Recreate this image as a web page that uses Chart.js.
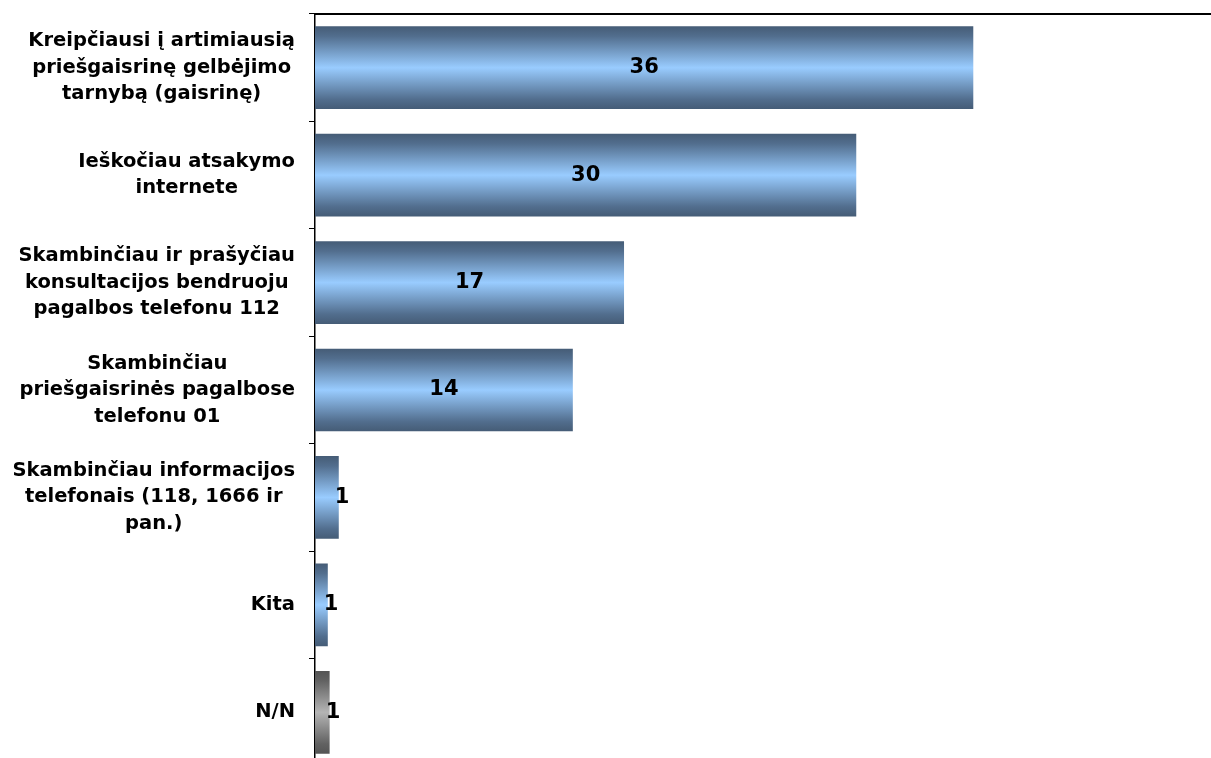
<!DOCTYPE html>
<html>
<head>
<meta charset="utf-8">
<script src="https://cdn.jsdelivr.net/npm/chart.js@4.4.0/dist/chart.umd.min.js"></script>
<style>
  html, body { margin: 0; padding: 0; background: #fff; overflow: hidden; }
  #wrap { width: 1211px; height: 766px; position: relative; }
</style>
</head>
<body>
<div id="wrap"><canvas id="chart"></canvas></div>
<script>
const categories = [
  ['Kreipčiausi į artimiausią', 'priešgaisrinę gelbėjimo', 'tarnybą (gaisrinę)'],
  ['Ieškočiau atsakymo', 'internete'],
  ['Skambinčiau ir prašyčiau', 'konsultacijos bendruoju', 'pagalbos telefonu 112'],
  ['Skambinčiau', 'priešgaisrinės pagalbose', 'telefonu 01'],
  ['Skambinčiau informacijos', 'telefonais (118, 1666 ir', 'pan.)'],
  ['Kita'],
  ['N/N'],
];
const values = [36, 29.6, 16.9, 14.1, 1.3, 0.7, 0.8];
const valueLabels = ['36', '30', '17', '14', '1', '1', '1'];
const grayBars = [false, false, false, false, false, false, true];

const LABEL_FONT = 'bold 19.5px "DejaVu Sans", Verdana, sans-serif';
const VALUE_FONT = 'bold 21px "DejaVu Sans", Verdana, sans-serif';

const barGradient = (ctx) => {
  const chart = ctx.chart;
  const yScale = chart.scales.y;
  if (!yScale || !chart.chartArea || ctx.dataIndex === undefined) return '#99ccff';
  const band = (yScale.bottom - yScale.top) / categories.length;
  const h = band * 0.77;
  const y = yScale.getPixelForValue(ctx.dataIndex);
  const g = chart.ctx.createLinearGradient(0, y - h / 2, 0, y + h / 2);
  if (grayBars[ctx.dataIndex]) {
    g.addColorStop(0, '#545454');
    g.addColorStop(0.12, '#626262');
    g.addColorStop(0.5, '#b4b4b4');
    g.addColorStop(0.88, '#626262');
    g.addColorStop(1, '#545454');
  } else {
    g.addColorStop(0, '#455c76');
    g.addColorStop(0.12, '#526e8e');
    g.addColorStop(0.5, '#99ccff');
    g.addColorStop(0.88, '#526e8e');
    g.addColorStop(1, '#455c76');
  }
  return g;
};

// category labels: block right-aligned, lines centred within the block
const categoryLabels = {
  id: 'categoryLabels',
  afterDraw(chart) {
    const { ctx, scales: { y } } = chart;
    const right = 295;
    const lineH = 26.5;
    ctx.save();
    ctx.font = LABEL_FONT;
    ctx.fillStyle = '#000';
    ctx.textAlign = 'center';
    ctx.textBaseline = 'middle';
    categories.forEach((lines, i) => {
      const w = Math.max(...lines.map(l => ctx.measureText(l).width));
      const cx = right - w / 2;
      const cy = y.getPixelForValue(i);
      lines.forEach((l, j) => {
        ctx.fillText(l, cx, cy + (j - (lines.length - 1) / 2) * lineH);
      });
    });
    ctx.restore();
  },
};

const valueLabelsPlugin = {
  id: 'valueLabels',
  afterDatasetsDraw(chart) {
    const { ctx } = chart;
    const meta = chart.getDatasetMeta(0);
    ctx.save();
    ctx.font = VALUE_FONT;
    ctx.fillStyle = '#000';
    ctx.textBaseline = 'middle';
    meta.data.forEach((bar, i) => {
      const w = bar.x - bar.base;
      if (w > 60) {
        ctx.textAlign = 'center';
        ctx.fillText(valueLabels[i], bar.base + w / 2, bar.y);
      } else {
        ctx.textAlign = 'left';
        ctx.fillText(valueLabels[i], bar.x - 4, bar.y);
      }
    });
    ctx.restore();
  },
};

new Chart(document.getElementById('chart'), {
  type: 'bar',
  data: {
    labels: categories.map(c => c.join(' ')),
    datasets: [{
      data: values,
      backgroundColor: barGradient,
      borderWidth: 0,
      categoryPercentage: 1,
      barPercentage: 0.77,
    }],
  },
  options: {
    indexAxis: 'y',
    responsive: true,
    maintainAspectRatio: false,
    animation: false,
    layout: { padding: 0 },
    scales: {
      x: {
        position: 'top',
        min: 0,
        max: 49,
        grid: { display: false },
        ticks: { display: false },
        border: { display: true, color: '#000', width: 2 },
        afterFit: (s) => { s.height = 14; },
      },
      y: {
        offset: true,
        grid: {
          display: true,
          drawOnChartArea: false,
          drawTicks: true,
          tickLength: 6,
          color: '#000',
          offset: true,
        },
        ticks: { display: false },
        border: { display: true, color: '#000', width: 1.5 },
        afterFit: (s) => { s.width = 315; },
      },
    },
    plugins: {
      legend: { display: false },
      tooltip: { enabled: false },
    },
  },
  plugins: [categoryLabels, valueLabelsPlugin],
});
</script>
</body>
</html>
